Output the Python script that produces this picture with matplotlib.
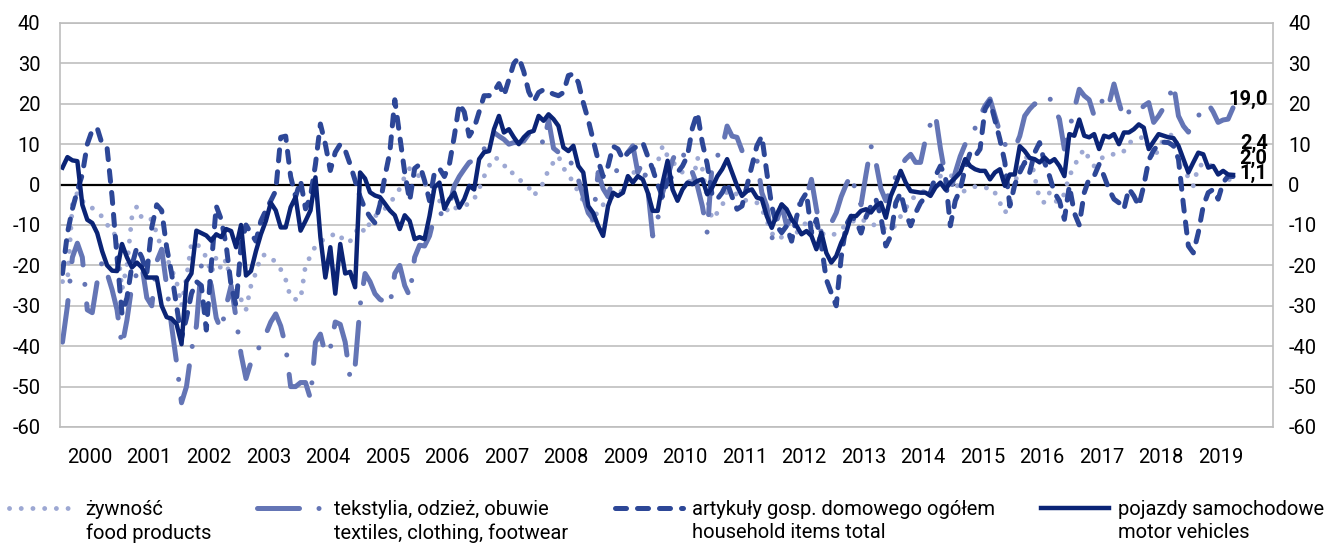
import matplotlib
matplotlib.use("Agg")
import matplotlib.pyplot as plt
from matplotlib.lines import Line2D
import numpy as np

plt.rcParams["font.family"] = ["Roboto", "DejaVu Sans"]
plt.rcParams["axes.unicode_minus"] = False

# monthly data, Jan 2000 - Sep 2019 (one row per year)
YEARS = [str(y) for y in range(2000, 2020)]

food = [
    -24, -24, -5, -2, -4, -5.3, -5.8, -7, -7.9, -10, -10.7, -14,
    -26, -20, -8, -5.4, -8.3, -8, -8.7, -12, -16, -18, -21, -24,
    -30, -23, -14.5, -14.5, -16, -18, -22, -18, -21, -18.5, -24.7, -27.7,
    -28.4, -31, -25, -21.8, -17.7, -17.3, -18, -19.3, -21, -23.5, -28, -28.4,
    -28.4, -20, -17.7, -15.2, -14, -13.5, -13, -11.9, -12.7, -14.4, -14, -12,
    -10.2, -11.9, -9.4, -7.8, -7, -6, -4.5, -3, -1, 2, 4, 3,
    2, 0, 0, -2, -4, -5.3, -7, -6, -5.3, -5, -4.9, -3.6,
    -1, 2, 4.6, 6.7, 6.3, 4.6, 4.6, 2.1, 1.3, 0.5, -0.7, -2.8,
    -1.2, 0.5, 3.8, 5.5, 7, 4.2, 2, 0.9, -2, -4, -6.5, -9.4,
    -6.1, -5, -3.6, -3, -2.8, -1, 1.3, 3, 3, 2.5, 2.1, 3.5,
    5.5, 9.6, 7, 5.5, 4.6, 3, 1.5, -0.3, 6.7, 4, -3.6, -8.6,
    -7, -5.3, -1.6, -1.5, -2.5, -3.6, -4, -4.5, -4.5, -6, -9, -12,
    -13.5, -13, -12, -13.5, -12, -10.2, -9.5, -9.5, -10, -12, -12.5, -12.7,
    -12, -11, -10, -9.5, -8.5, -9, -8.8, -9.2, -10.5, -11, -10.8, -11.2,
    -10, -7.8, -6, -3.6, -3, -2, -1.5, -0.7, 1, 2.1, 2.3, 2.5,
    1, -2, -1.5, -0.8, -0.5, -0.7, -0.9, -0.6, -2, -4.5, -7, -5,
    0.5, 3.8, 6, 7.9, 2, -3.6, -4.5, -2, -3, -6.1, -2, 2.1,
    4.6, 7, 8.8, 6.3, 4.6, 6, 7, 7.5, 7.5, 7.5, 8.3, 10.4,
    10.8, 11.2, 12, 9, 6.3, 9, 11.2, 12, 12.5, 9, 6.3, 1.3,
    -0.3, 4.6, 5, 5.5, 4, 3, 2, 1.3, 1.1,
]

textiles = [
    -39, -30, -18, -14.5, -18, -31, -31.7, -24, -19, -22, -26, -31,
    -40, -33.5, -25, -22, -20, -28, -30, -19, -16, -25, -35, -44,
    -54, -50, -41, -35, -20, -21, -25, -33, -36, -30, -25, -33,
    -42, -48, -44, -41, -40, -37, -34, -32, -35, -40, -50, -50,
    -49, -49, -53, -39, -37, -42, -40.5, -34, -34.6, -39, -48, -45,
    -30, -22, -24, -27, -28.4, -29, -30, -22, -20, -25, -27.6, -18,
    -15, -15.2, -12.7, -7.8, -7.8, -6, -5.3, -0.3, 2, 3.8, 5.5, 6,
    7, 8.8, 11.2, 12.9, 12, 11.2, 10, 10.4, 10.4, 10.8, 12.5, 12.9,
    12.5, 10, 16, 9, 8, 7, 7, 4, 1.3, -3, -7, -8.6,
    3, -1, -3, 2, 4, 6.3, 8, 9.6, 3, 5.5, -1, -12.7,
    -8.6, -2, 2, 6, 9, 8, 5, 3, -0.3, -5.3, -12, 5.5,
    7, 9, 14.5, 12, 11.7, 8.4, 7.9, 7.5, 6.3, -2, -5.3, -13.5,
    -9, -5, -10.2, -8, -6, -4, -3, 1.3, -6, -12, -10, -9.5,
    -7, -3, 0, 2.5, -2, -5, 2.5, 9.6, 5.5, -1, -4, -1,
    2, 4.6, 6.3, 7.5, 5.5, 5.5, 11.2, 15, 17.4, 9, 2, -2,
    3, 7, 10, 11.2, 14, 17, 19.5, 21.2, 17, 12.9, 10, 8.8,
    9, 12, 17, 18.7, 20, 19.5, 20.7, 21.5, 19, 16.2, 8.8, 13.7,
    18.7, 23.6, 22, 21, 17, 18.7, 22, 20, 24.9, 20.3, 16.2, 18,
    19, 18, 19.5, 20.3, 15.4, 17, 19, 21.2, 24.9, 17, 14.5, 13,
    15.4, 17, 18.7, 20, 18, 15.4, 16, 16.2, 19.0,
]

household = [
    -22, -12, -6, -1.5, 2.5, 10, 13.5, 14, 10, 9, -3, -18,
    -32, -28, -20, -15.5, -18, -22, -10.6, -5, -6.4, -15.5, -22, -30,
    -38, -33, -27, -24, -25, -36, -20, -5.3, -8.6, -15, -25, -30,
    -15, -10, -12, -14, -9, -6.4, -4, -1.5, 11.7, 12, 2, -3,
    1, -6, -3, 5, 15, 10, 3.5, 8, 10, 8.5, 5, 1,
    -3, -6, -8, -9.5, -5, 2, 8, 21, 12, 3, -4, 4,
    5, 1, -4, 3, 4, 2, 5, 12, 20, 18, 12, 14,
    18, 22, 22, 23, 25, 22, 26, 30, 31.5, 28, 23, 20.5,
    22.8, 23.5, 23, 22.4, 22, 22.8, 27, 27.4, 25.3, 20.3, 16, 11,
    6, 2, 4.6, 9.5, 8.8, 6.3, 7.9, 8.8, 9.6, 10.4, 7, 3.8,
    0, -3, 1, 2, 3, 4.6, 7.1, 14, 17.8, 10.4, 5, -2.8,
    -3.6, -2, 0.5, -3, -6.1, -5.3, -0.3, 4.6, 9.6, 12, 3, -5.3,
    -10.2, -11.9, -10.2, -14, -8, -4, -2, -12, -8.6, -15, -23.5, -26.8,
    -30, -18, -10, -7.8, -9, -12, -8, -5.3, -3.6, -8, -15.2, -12.7,
    -4.5, -2, -7, -10.2, -7, -4.5, -3, -2, 2.1, 4.6, 2.1, -10.2,
    -4, -1.2, 4, 7.9, 7, 8.8, 18.7, 20.7, 16, 11.2, 5.5, -5.3,
    0, 3, 5.5, 3, 7.9, 10.4, 5.5, 2.1, -2, -4, -8.6, -0.3,
    -7, -10, -2, 1.5, 2.1, 5, 2.1, -1.2, -3.6, -4.5, -6.1, -1,
    -2.8, -5.3, -0.3, 6, 8.5, 10, 10.5, 10.4, 9.6, 6.3, -5, -15.2,
    -16.9, -11.9, -5.3, -2, -1.2, -3.6, 0.5, 2.1, 2.0,
]

vehicles = [
    4.2, 6.8, 6.0, 5.8, -5.0, -8.7, -9.5, -12.0, -16.5, -20.0, -21.3, -21.4,
    -14.7, -18.0, -20.5, -19.3, -20.5, -23.0, -23.0, -23.0, -30.0, -32.8, -33.2, -34.5,
    -39.5, -24.0, -22.0, -11.4, -12.0, -12.6, -13.9, -12.3, -13.0, -11.0, -11.5, -15.5,
    -10.0, -22.5, -21.4, -16.5, -12.3, -9.0, -4.5, -6.4, -10.6, -10.6, -5.6, -3.1,
    -11.4, -9.0, -6.4, 1.8, -13.0, -23.0, -15.5, -27.0, -14.7, -22.0, -21.6, -25.4,
    3.0, 1.5, -1.9, -2.7, -3.1, -4.7, -6.4, -7.6, -11.0, -7.6, -9.0, -13.5,
    -13.0, -13.5, -7.8, -0.7, 0.5, -6.0, -3.6, -2.0, -5.7, -3.6, -0.3, -1.2,
    6.3, 8.0, 8.3, 13.7, 17.0, 12.9, 13.7, 11.7, 10.0, 11.7, 12.9, 13.3,
    17.0, 15.8, 17.4, 16.2, 14.5, 9.2, 8.3, 9.6, 4.6, 3.0, -5.3, -7.0,
    -10.2, -12.7, -5.3, -2.0, -2.8, -2.0, 2.1, 0.5, 2.1, 1.3, -2.0, -6.5,
    -6.5, 0.5, 5.9, -1.2, -4.0, -1.2, 0.5, 0.1, 0.9, 1.3, -2.4, -0.7,
    2.0, 3.8, 6.3, 3.0, -0.3, -2.8, -1.6, -1.2, -3.2, -3.6, -7.8, -10.7,
    -7.4, -4.9, -6.1, -8.6, -10.2, -12.3, -11.5, -12.7, -16.0, -11.9, -16.9, -19.3,
    -17.7, -14.4, -11.9, -7.8, -7.8, -6.5, -6.1, -6.9, -5.3, -4.5, -8.2, -2.8,
    0.1, 3.4, 0.5, -1.6, -1.8, -2.0, -2.0, -2.8, -0.7, 0.5, -1.2, 0.5,
    1.7, 3.0, 6.3, 4.6, 3.8, 3.4, 3.4, 1.3, 3.0, 3.8, -0.3, 2.5,
    2.5, 9.5, 8.3, 6.6, 6.3, 5.5, 6.7, 5.5, 6.3, 4.6, 2.1, 12.5,
    12.1, 16.1, 12.1, 11.7, 12.5, 8.8, 12.1, 11.7, 12.5, 10.0, 12.9, 12.9,
    13.7, 14.9, 14.1, 8.8, 10.7, 12.5, 12.1, 11.7, 11.5, 9.6, 6.3, 3.0,
    5.5, 7.9, 7.5, 4.2, 4.6, 2.5, 3.4, 2.5, 2.4,
]

LABELS = [
    ("żywność", "food products"),
    ("tekstylia, odzież, obuwie", "textiles, clothing, footwear"),
    ("artykuły gosp. domowego ogółem", "household items total"),
    ("pojazdy samochodowe", "motor vehicles"),
]

C_FOOD = "#9da8d3"
C_TEX = "#6475b5"
C_HOUSE = "#2d4797"
C_CAR = "#0b2476"

W, H = 1339, 543
FS = 14.5

styles = [
    dict(color=C_FOOD, lw=3.5, ls=(0, (0.01, 2.4)), dash_capstyle="round"),
    dict(color=C_TEX, lw=3.6, ls=(0, (8.4, 3.9, 0.01, 3.9)), dash_capstyle="round"),
    dict(color=C_HOUSE, lw=3.6, ls=(0, (2.2, 2.2)), dash_capstyle="round"),
    dict(color=C_CAR, lw=3.2, ls="-", solid_joinstyle="round"),
]

fig = plt.figure(figsize=(W / 100, H / 100), dpi=100)
ax = fig.add_axes([60 / W, 1 - 427 / H, 1213 / W, 404 / H])

series = [food, textiles, household, vehicles]
for vals, st in zip(series, styles):
    x = np.arange(len(vals))
    ax.plot(x, vals, **st)

ax.axhline(0, color="black", lw=1.6, zorder=1)

ax.set_xlim(-0.5, 244.06)
ax.set_ylim(-60, 40)
ax.set_yticks(range(-60, 41, 10))
ax.yaxis.grid(True, color="#c4c4c4", lw=1.3)
ax.set_axisbelow(True)
ax.set_xticks([12 * i + 5.5 for i in range(len(YEARS))])
ax.set_xticklabels(YEARS)
ax.tick_params(axis="x", length=0, pad=15, labelsize=FS)
ax.tick_params(axis="y", length=0, pad=14, labelsize=FS)
for s in ax.spines.values():
    s.set_color("#bdbdbd")
    s.set_linewidth(1.2)

ax2 = ax.twinx()
ax2.set_ylim(-60, 40)
ax2.set_yticks(range(-60, 41, 10))
ax2.tick_params(axis="y", length=0, pad=11, labelsize=FS)
for s in ax2.spines.values():
    s.set_visible(False)

# end-of-series value labels (the three close ones share one stacked text)
last = len(vehicles) - 1
ax.annotate(f"{textiles[-1]:.1f}".replace(".", ","), xy=(last, textiles[-1]),
            xytext=(25, 6), textcoords="offset points", ha="right",
            va="center", fontsize=FS, fontweight="bold", color="black")
stack = "\n".join(f"{v:.1f}".replace(".", ",")
                  for v in (vehicles[-1], household[-1], food[-1]))
ax.annotate(stack, xy=(last, vehicles[-1]), xytext=(25, 12),
            textcoords="offset points", ha="right", va="center",
            multialignment="right", linespacing=0.72,
            fontsize=FS, fontweight="bold", color="black")

# legend: one block per series, handle next to the first line
anchors = [9, 257, 615, 1041]
for (pl, en), st, x0 in zip(LABELS, styles, anchors):
    h = Line2D([], [], **st)
    blank = Line2D([], [], color="none")
    fig.legend([h, blank], [pl, en], loc="upper left",
               bbox_to_anchor=(x0 / W, 1 - 500 / H), frameon=False,
               fontsize=FS, handlelength=3.4, handletextpad=0.4,
               borderpad=0, borderaxespad=0, labelspacing=0.2)

fig.savefig("out.png", dpi=100)
